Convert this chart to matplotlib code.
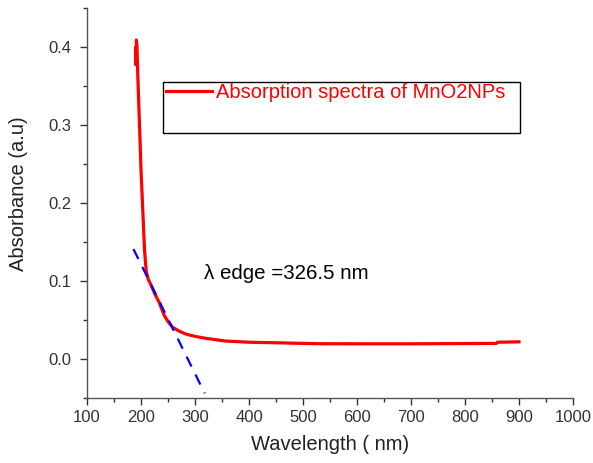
import matplotlib
matplotlib.use("Agg")
import matplotlib.pyplot as plt
import matplotlib.patches as patches
from matplotlib.ticker import MultipleLocator

plt.rcParams['font.family'] = ['Liberation Sans', 'DejaVu Sans']

# absorption spectrum
wavelength = [190, 190.5, 191, 191.5, 192.5, 194, 196, 198, 200, 204, 206.5, 209.6,
              213, 219, 226, 234, 243, 250, 258, 270, 283, 300, 320, 357, 400,
              436, 528, 600, 700, 800, 858, 860, 900]
absorbance = [0.378, 0.400, 0.383, 0.409, 0.402, 0.365, 0.325, 0.285, 0.243, 0.180,
              0.140, 0.113, 0.103, 0.094, 0.083, 0.072, 0.056, 0.048, 0.041, 0.036,
              0.032, 0.029, 0.0265, 0.023, 0.0215, 0.021, 0.0196, 0.0195, 0.0195,
              0.0198, 0.0200, 0.0215, 0.022]

# tangent used for the band edge
edge_x = [186, 318]
edge_y = [0.141, -0.044]

edge_label = "\u03bb edge =326.5 nm"
series_label = "Absorption spectra of MnO2NPs"

fig = plt.figure(figsize=(5.93, 4.63), dpi=100)
ax = fig.add_axes([0.1467, 0.1404, 0.8196, 0.8423])

line, = ax.plot(wavelength, absorbance, color="red", lw=2.3, label=series_label)
ax.plot(edge_x, edge_y, color="blue", lw=1.6, ls=(0, (5, 4)))

ax.text(317, 0.110, edge_label, fontsize=14.8, ha="left", va="center", color="black")

ax.set_xlim(100, 1000)
ax.set_ylim(-0.05, 0.45)
ax.xaxis.set_major_locator(MultipleLocator(100))
ax.xaxis.set_minor_locator(MultipleLocator(50))
ax.yaxis.set_minor_locator(MultipleLocator(0.05))
ax.set_yticks([0.0, 0.1, 0.2, 0.3, 0.4])
ax.set_yticklabels(["0.0", "0.1", "0.2", "0.3", "0.4"])

for side in ["top", "right"]:
    ax.spines[side].set_visible(False)
for side in ["left", "bottom"]:
    ax.spines[side].set_color("#555555")
    ax.spines[side].set_linewidth(1.0)

ax.tick_params(which="major", length=5, width=1, color="#333333",
               labelsize=12, labelcolor="#333333", direction="out")
ax.tick_params(axis="y", which="major", pad=6)
ax.tick_params(which="minor", length=3, width=1, color="#333333", direction="out")

ax.set_xlabel("Wavelength ( nm)", fontsize=14.5, color="#222222", labelpad=7)
ax.set_ylabel("Absorbance (a.u)", fontsize=14.5, color="#222222")
ax.yaxis.set_label_coords(-0.122, 0.523)

# Origin-style legend box with an empty second row
ax.add_patch(patches.Rectangle((0.156, 0.679), 0.735, 0.131, transform=ax.transAxes,
                               fill=False, edgecolor="black", lw=1.0, zorder=5))
leg = ax.legend(handles=[line], loc="upper left", bbox_to_anchor=(0.158, 0.812),
                frameon=False, fontsize=14.5, handlelength=2.3, handletextpad=0.2,
                borderpad=0.1, borderaxespad=0)
for t in leg.get_texts():
    t.set_color("red")

fig.savefig("out.png", dpi=100)
